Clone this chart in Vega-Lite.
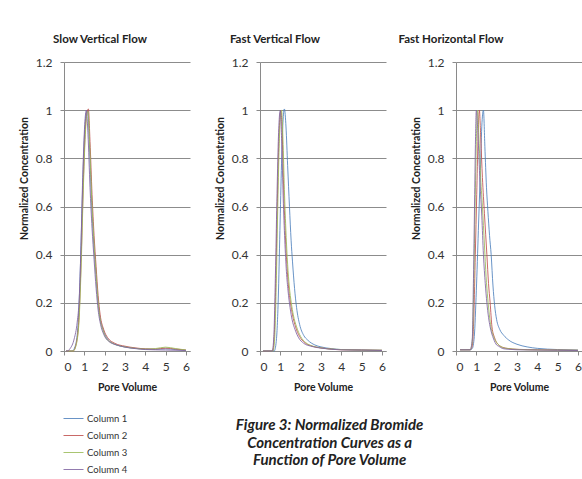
{
  "$schema": "https://vega.github.io/schema/vega-lite/v6.json",
  "autosize": {"type": "none"},
  "padding": {"left": 64, "top": 62, "right": 518, "bottom": 417},
  "background": "white",
  "bounds": "flush",
  "spacing": 70,
  "title": {
    "text": ["Figure 3: Normalized Bromide", "Concentration Curves as a", "Function of Pore Volume"],
    "orient": "bottom", "anchor": "middle", "frame": "bounds",
    "font": "Lato", "fontSize": 15, "fontWeight": "bold", "fontStyle": "italic", "color": "#222",
    "lineHeight": 17.5, "offset": 0, "dx": 29, "dy": -56
  },
  "datasets": {
    "d": [
      {"p":"slow","s":"Column 1","x":0.1,"y":0},{"p":"slow","s":"Column 1","x":0.4,"y":0},{"p":"slow","s":"Column 1","x":0.55,"y":0.02},{"p":"slow","s":"Column 1","x":0.7,"y":0.12},{"p":"slow","s":"Column 1","x":0.8,"y":0.33},{"p":"slow","s":"Column 1","x":0.9,"y":0.63},{"p":"slow","s":"Column 1","x":1.0,"y":0.88},{"p":"slow","s":"Column 1","x":1.1,"y":0.99},{"p":"slow","s":"Column 1","x":1.17,"y":1.0},{"p":"slow","s":"Column 1","x":1.25,"y":0.86},{"p":"slow","s":"Column 1","x":1.35,"y":0.64},{"p":"slow","s":"Column 1","x":1.45,"y":0.47},{"p":"slow","s":"Column 1","x":1.55,"y":0.35},{"p":"slow","s":"Column 1","x":1.65,"y":0.23},{"p":"slow","s":"Column 1","x":1.75,"y":0.15},{"p":"slow","s":"Column 1","x":1.9,"y":0.095},{"p":"slow","s":"Column 1","x":2.1,"y":0.055},{"p":"slow","s":"Column 1","x":2.4,"y":0.032},{"p":"slow","s":"Column 1","x":2.8,"y":0.02},{"p":"slow","s":"Column 1","x":3.3,"y":0.013},{"p":"slow","s":"Column 1","x":4,"y":0.008},{"p":"slow","s":"Column 1","x":4.5,"y":0.007},{"p":"slow","s":"Column 1","x":5,"y":0.009},{"p":"slow","s":"Column 1","x":5.5,"y":0.006},{"p":"slow","s":"Column 1","x":6,"y":0.003},
      {"p":"slow","s":"Column 2","x":0.1,"y":0},{"p":"slow","s":"Column 2","x":0.45,"y":0},{"p":"slow","s":"Column 2","x":0.6,"y":0.03},{"p":"slow","s":"Column 2","x":0.75,"y":0.16},{"p":"slow","s":"Column 2","x":0.85,"y":0.4},{"p":"slow","s":"Column 2","x":0.95,"y":0.7},{"p":"slow","s":"Column 2","x":1.05,"y":0.92},{"p":"slow","s":"Column 2","x":1.13,"y":0.99},{"p":"slow","s":"Column 2","x":1.2,"y":1.005},{"p":"slow","s":"Column 2","x":1.28,"y":0.87},{"p":"slow","s":"Column 2","x":1.38,"y":0.65},{"p":"slow","s":"Column 2","x":1.48,"y":0.48},{"p":"slow","s":"Column 2","x":1.58,"y":0.35},{"p":"slow","s":"Column 2","x":1.68,"y":0.23},{"p":"slow","s":"Column 2","x":1.78,"y":0.15},{"p":"slow","s":"Column 2","x":1.95,"y":0.09},{"p":"slow","s":"Column 2","x":2.15,"y":0.055},{"p":"slow","s":"Column 2","x":2.5,"y":0.032},{"p":"slow","s":"Column 2","x":3,"y":0.02},{"p":"slow","s":"Column 2","x":3.5,"y":0.013},{"p":"slow","s":"Column 2","x":4,"y":0.009},{"p":"slow","s":"Column 2","x":4.5,"y":0.008},{"p":"slow","s":"Column 2","x":5,"y":0.012},{"p":"slow","s":"Column 2","x":5.5,"y":0.008},{"p":"slow","s":"Column 2","x":6,"y":0.004},
      {"p":"slow","s":"Column 3","x":0.1,"y":0},{"p":"slow","s":"Column 3","x":0.45,"y":0},{"p":"slow","s":"Column 3","x":0.6,"y":0.025},{"p":"slow","s":"Column 3","x":0.75,"y":0.14},{"p":"slow","s":"Column 3","x":0.85,"y":0.37},{"p":"slow","s":"Column 3","x":0.95,"y":0.67},{"p":"slow","s":"Column 3","x":1.05,"y":0.9},{"p":"slow","s":"Column 3","x":1.12,"y":0.98},{"p":"slow","s":"Column 3","x":1.18,"y":0.995},{"p":"slow","s":"Column 3","x":1.26,"y":0.86},{"p":"slow","s":"Column 3","x":1.36,"y":0.64},{"p":"slow","s":"Column 3","x":1.46,"y":0.47},{"p":"slow","s":"Column 3","x":1.56,"y":0.34},{"p":"slow","s":"Column 3","x":1.66,"y":0.22},{"p":"slow","s":"Column 3","x":1.76,"y":0.14},{"p":"slow","s":"Column 3","x":1.92,"y":0.085},{"p":"slow","s":"Column 3","x":2.1,"y":0.05},{"p":"slow","s":"Column 3","x":2.5,"y":0.028},{"p":"slow","s":"Column 3","x":3,"y":0.017},{"p":"slow","s":"Column 3","x":3.5,"y":0.011},{"p":"slow","s":"Column 3","x":4,"y":0.008},{"p":"slow","s":"Column 3","x":4.5,"y":0.01},{"p":"slow","s":"Column 3","x":5,"y":0.016},{"p":"slow","s":"Column 3","x":5.5,"y":0.01},{"p":"slow","s":"Column 3","x":6,"y":0.004},
      {"p":"slow","s":"Column 4","x":0.1,"y":0},{"p":"slow","s":"Column 4","x":0.15,"y":0},{"p":"slow","s":"Column 4","x":0.3,"y":0.01},{"p":"slow","s":"Column 4","x":0.5,"y":0.05},{"p":"slow","s":"Column 4","x":0.65,"y":0.12},{"p":"slow","s":"Column 4","x":0.75,"y":0.22},{"p":"slow","s":"Column 4","x":0.83,"y":0.42},{"p":"slow","s":"Column 4","x":0.92,"y":0.72},{"p":"slow","s":"Column 4","x":1.02,"y":0.94},{"p":"slow","s":"Column 4","x":1.1,"y":1.0},{"p":"slow","s":"Column 4","x":1.18,"y":0.9},{"p":"slow","s":"Column 4","x":1.28,"y":0.68},{"p":"slow","s":"Column 4","x":1.38,"y":0.51},{"p":"slow","s":"Column 4","x":1.48,"y":0.38},{"p":"slow","s":"Column 4","x":1.58,"y":0.26},{"p":"slow","s":"Column 4","x":1.68,"y":0.17},{"p":"slow","s":"Column 4","x":1.8,"y":0.11},{"p":"slow","s":"Column 4","x":1.95,"y":0.07},{"p":"slow","s":"Column 4","x":2.2,"y":0.04},{"p":"slow","s":"Column 4","x":2.6,"y":0.025},{"p":"slow","s":"Column 4","x":3,"y":0.016},{"p":"slow","s":"Column 4","x":3.5,"y":0.01},{"p":"slow","s":"Column 4","x":4,"y":0.006},{"p":"slow","s":"Column 4","x":5,"y":0.004},{"p":"slow","s":"Column 4","x":6,"y":0.002},

      {"p":"fastV","s":"Column 1","x":0.15,"y":0},{"p":"fastV","s":"Column 1","x":0.7,"y":0},{"p":"fastV","s":"Column 1","x":0.8,"y":0.04},{"p":"fastV","s":"Column 1","x":0.9,"y":0.22},{"p":"fastV","s":"Column 1","x":0.98,"y":0.5},{"p":"fastV","s":"Column 1","x":1.06,"y":0.78},{"p":"fastV","s":"Column 1","x":1.13,"y":0.95},{"p":"fastV","s":"Column 1","x":1.2,"y":1.005},{"p":"fastV","s":"Column 1","x":1.28,"y":0.93},{"p":"fastV","s":"Column 1","x":1.36,"y":0.77},{"p":"fastV","s":"Column 1","x":1.45,"y":0.6},{"p":"fastV","s":"Column 1","x":1.53,"y":0.46},{"p":"fastV","s":"Column 1","x":1.6,"y":0.37},{"p":"fastV","s":"Column 1","x":1.7,"y":0.26},{"p":"fastV","s":"Column 1","x":1.8,"y":0.18},{"p":"fastV","s":"Column 1","x":1.95,"y":0.11},{"p":"fastV","s":"Column 1","x":2.15,"y":0.065},{"p":"fastV","s":"Column 1","x":2.35,"y":0.045},{"p":"fastV","s":"Column 1","x":2.7,"y":0.025},{"p":"fastV","s":"Column 1","x":3,"y":0.017},{"p":"fastV","s":"Column 1","x":3.5,"y":0.01},{"p":"fastV","s":"Column 1","x":4,"y":0.006},{"p":"fastV","s":"Column 1","x":5,"y":0.004},{"p":"fastV","s":"Column 1","x":6,"y":0.003},
      {"p":"fastV","s":"Column 2","x":0.15,"y":0},{"p":"fastV","s":"Column 2","x":0.62,"y":0},{"p":"fastV","s":"Column 2","x":0.7,"y":0.06},{"p":"fastV","s":"Column 2","x":0.78,"y":0.3},{"p":"fastV","s":"Column 2","x":0.85,"y":0.6},{"p":"fastV","s":"Column 2","x":0.92,"y":0.85},{"p":"fastV","s":"Column 2","x":0.98,"y":0.97},{"p":"fastV","s":"Column 2","x":1.03,"y":1.0},{"p":"fastV","s":"Column 2","x":1.1,"y":0.88},{"p":"fastV","s":"Column 2","x":1.17,"y":0.66},{"p":"fastV","s":"Column 2","x":1.25,"y":0.48},{"p":"fastV","s":"Column 2","x":1.33,"y":0.35},{"p":"fastV","s":"Column 2","x":1.4,"y":0.27},{"p":"fastV","s":"Column 2","x":1.5,"y":0.2},{"p":"fastV","s":"Column 2","x":1.6,"y":0.15},{"p":"fastV","s":"Column 2","x":1.75,"y":0.1},{"p":"fastV","s":"Column 2","x":1.95,"y":0.06},{"p":"fastV","s":"Column 2","x":2.2,"y":0.035},{"p":"fastV","s":"Column 2","x":2.5,"y":0.022},{"p":"fastV","s":"Column 2","x":3,"y":0.013},{"p":"fastV","s":"Column 2","x":3.5,"y":0.008},{"p":"fastV","s":"Column 2","x":4,"y":0.005},{"p":"fastV","s":"Column 2","x":5,"y":0.004},{"p":"fastV","s":"Column 2","x":6,"y":0.003},
      {"p":"fastV","s":"Column 3","x":0.15,"y":0},{"p":"fastV","s":"Column 3","x":0.64,"y":0},{"p":"fastV","s":"Column 3","x":0.72,"y":0.05},{"p":"fastV","s":"Column 3","x":0.8,"y":0.28},{"p":"fastV","s":"Column 3","x":0.87,"y":0.58},{"p":"fastV","s":"Column 3","x":0.94,"y":0.84},{"p":"fastV","s":"Column 3","x":1.0,"y":0.97},{"p":"fastV","s":"Column 3","x":1.06,"y":1.0},{"p":"fastV","s":"Column 3","x":1.13,"y":0.88},{"p":"fastV","s":"Column 3","x":1.2,"y":0.67},{"p":"fastV","s":"Column 3","x":1.28,"y":0.49},{"p":"fastV","s":"Column 3","x":1.36,"y":0.36},{"p":"fastV","s":"Column 3","x":1.44,"y":0.27},{"p":"fastV","s":"Column 3","x":1.54,"y":0.2},{"p":"fastV","s":"Column 3","x":1.64,"y":0.15},{"p":"fastV","s":"Column 3","x":1.8,"y":0.1},{"p":"fastV","s":"Column 3","x":2.0,"y":0.06},{"p":"fastV","s":"Column 3","x":2.25,"y":0.035},{"p":"fastV","s":"Column 3","x":2.6,"y":0.02},{"p":"fastV","s":"Column 3","x":3,"y":0.013},{"p":"fastV","s":"Column 3","x":3.5,"y":0.008},{"p":"fastV","s":"Column 3","x":4,"y":0.006},{"p":"fastV","s":"Column 3","x":5,"y":0.004},{"p":"fastV","s":"Column 3","x":6,"y":0.003},
      {"p":"fastV","s":"Column 4","x":0.15,"y":0},{"p":"fastV","s":"Column 4","x":0.6,"y":0},{"p":"fastV","s":"Column 4","x":0.68,"y":0.06},{"p":"fastV","s":"Column 4","x":0.76,"y":0.32},{"p":"fastV","s":"Column 4","x":0.83,"y":0.62},{"p":"fastV","s":"Column 4","x":0.9,"y":0.87},{"p":"fastV","s":"Column 4","x":0.96,"y":0.98},{"p":"fastV","s":"Column 4","x":1.0,"y":1.0},{"p":"fastV","s":"Column 4","x":1.07,"y":0.86},{"p":"fastV","s":"Column 4","x":1.14,"y":0.64},{"p":"fastV","s":"Column 4","x":1.22,"y":0.46},{"p":"fastV","s":"Column 4","x":1.3,"y":0.33},{"p":"fastV","s":"Column 4","x":1.38,"y":0.25},{"p":"fastV","s":"Column 4","x":1.48,"y":0.18},{"p":"fastV","s":"Column 4","x":1.58,"y":0.13},{"p":"fastV","s":"Column 4","x":1.72,"y":0.09},{"p":"fastV","s":"Column 4","x":1.9,"y":0.055},{"p":"fastV","s":"Column 4","x":2.15,"y":0.032},{"p":"fastV","s":"Column 4","x":2.5,"y":0.02},{"p":"fastV","s":"Column 4","x":3,"y":0.012},{"p":"fastV","s":"Column 4","x":3.5,"y":0.007},{"p":"fastV","s":"Column 4","x":4,"y":0.005},{"p":"fastV","s":"Column 4","x":5,"y":0.004},{"p":"fastV","s":"Column 4","x":6,"y":0.002},

      {"p":"fastH","s":"Column 1","x":0.2,"y":0.005},{"p":"fastH","s":"Column 1","x":0.7,"y":0.005},{"p":"fastH","s":"Column 1","x":0.8,"y":0.01},{"p":"fastH","s":"Column 1","x":0.9,"y":0.06},{"p":"fastH","s":"Column 1","x":1.0,"y":0.25},{"p":"fastH","s":"Column 1","x":1.1,"y":0.5},{"p":"fastH","s":"Column 1","x":1.2,"y":0.75},{"p":"fastH","s":"Column 1","x":1.28,"y":0.95},{"p":"fastH","s":"Column 1","x":1.35,"y":1.0},{"p":"fastH","s":"Column 1","x":1.42,"y":0.85},{"p":"fastH","s":"Column 1","x":1.5,"y":0.68},{"p":"fastH","s":"Column 1","x":1.57,"y":0.58},{"p":"fastH","s":"Column 1","x":1.65,"y":0.48},{"p":"fastH","s":"Column 1","x":1.73,"y":0.4},{"p":"fastH","s":"Column 1","x":1.82,"y":0.27},{"p":"fastH","s":"Column 1","x":1.9,"y":0.19},{"p":"fastH","s":"Column 1","x":2.0,"y":0.13},{"p":"fastH","s":"Column 1","x":2.15,"y":0.09},{"p":"fastH","s":"Column 1","x":2.35,"y":0.065},{"p":"fastH","s":"Column 1","x":2.6,"y":0.045},{"p":"fastH","s":"Column 1","x":3.0,"y":0.028},{"p":"fastH","s":"Column 1","x":3.5,"y":0.017},{"p":"fastH","s":"Column 1","x":4,"y":0.011},{"p":"fastH","s":"Column 1","x":5,"y":0.006},{"p":"fastH","s":"Column 1","x":6,"y":0.004},
      {"p":"fastH","s":"Column 2","x":0.2,"y":0.005},{"p":"fastH","s":"Column 2","x":0.7,"y":0.005},{"p":"fastH","s":"Column 2","x":0.8,"y":0.02},{"p":"fastH","s":"Column 2","x":0.88,"y":0.15},{"p":"fastH","s":"Column 2","x":0.95,"y":0.4},{"p":"fastH","s":"Column 2","x":1.02,"y":0.65},{"p":"fastH","s":"Column 2","x":1.08,"y":0.87},{"p":"fastH","s":"Column 2","x":1.15,"y":1.0},{"p":"fastH","s":"Column 2","x":1.22,"y":0.88},{"p":"fastH","s":"Column 2","x":1.3,"y":0.72},{"p":"fastH","s":"Column 2","x":1.4,"y":0.57},{"p":"fastH","s":"Column 2","x":1.52,"y":0.4},{"p":"fastH","s":"Column 2","x":1.6,"y":0.28},{"p":"fastH","s":"Column 2","x":1.68,"y":0.2},{"p":"fastH","s":"Column 2","x":1.77,"y":0.1},{"p":"fastH","s":"Column 2","x":1.9,"y":0.055},{"p":"fastH","s":"Column 2","x":2.0,"y":0.035},{"p":"fastH","s":"Column 2","x":2.1,"y":0.025},{"p":"fastH","s":"Column 2","x":2.3,"y":0.015},{"p":"fastH","s":"Column 2","x":2.6,"y":0.01},{"p":"fastH","s":"Column 2","x":3,"y":0.007},{"p":"fastH","s":"Column 2","x":4,"y":0.005},{"p":"fastH","s":"Column 2","x":5,"y":0.004},{"p":"fastH","s":"Column 2","x":6,"y":0.003},
      {"p":"fastH","s":"Column 3","x":0.2,"y":0.005},{"p":"fastH","s":"Column 3","x":0.7,"y":0.005},{"p":"fastH","s":"Column 3","x":0.8,"y":0.04},{"p":"fastH","s":"Column 3","x":0.88,"y":0.3},{"p":"fastH","s":"Column 3","x":0.94,"y":0.6},{"p":"fastH","s":"Column 3","x":1.0,"y":0.87},{"p":"fastH","s":"Column 3","x":1.05,"y":1.0},{"p":"fastH","s":"Column 3","x":1.12,"y":0.9},{"p":"fastH","s":"Column 3","x":1.2,"y":0.74},{"p":"fastH","s":"Column 3","x":1.3,"y":0.6},{"p":"fastH","s":"Column 3","x":1.4,"y":0.44},{"p":"fastH","s":"Column 3","x":1.48,"y":0.31},{"p":"fastH","s":"Column 3","x":1.56,"y":0.22},{"p":"fastH","s":"Column 3","x":1.64,"y":0.15},{"p":"fastH","s":"Column 3","x":1.72,"y":0.1},{"p":"fastH","s":"Column 3","x":1.85,"y":0.06},{"p":"fastH","s":"Column 3","x":2.0,"y":0.035},{"p":"fastH","s":"Column 3","x":2.15,"y":0.022},{"p":"fastH","s":"Column 3","x":2.4,"y":0.012},{"p":"fastH","s":"Column 3","x":2.8,"y":0.008},{"p":"fastH","s":"Column 3","x":3.5,"y":0.005},{"p":"fastH","s":"Column 3","x":4.5,"y":0.004},{"p":"fastH","s":"Column 3","x":6,"y":0.003},
      {"p":"fastH","s":"Column 4","x":0.2,"y":0.005},{"p":"fastH","s":"Column 4","x":0.7,"y":0.005},{"p":"fastH","s":"Column 4","x":0.8,"y":0.05},{"p":"fastH","s":"Column 4","x":0.86,"y":0.3},{"p":"fastH","s":"Column 4","x":0.92,"y":0.65},{"p":"fastH","s":"Column 4","x":0.96,"y":0.88},{"p":"fastH","s":"Column 4","x":1.0,"y":1.0},{"p":"fastH","s":"Column 4","x":1.08,"y":0.9},{"p":"fastH","s":"Column 4","x":1.18,"y":0.7},{"p":"fastH","s":"Column 4","x":1.27,"y":0.56},{"p":"fastH","s":"Column 4","x":1.35,"y":0.4},{"p":"fastH","s":"Column 4","x":1.44,"y":0.28},{"p":"fastH","s":"Column 4","x":1.52,"y":0.2},{"p":"fastH","s":"Column 4","x":1.6,"y":0.14},{"p":"fastH","s":"Column 4","x":1.68,"y":0.1},{"p":"fastH","s":"Column 4","x":1.85,"y":0.05},{"p":"fastH","s":"Column 4","x":2.0,"y":0.025},{"p":"fastH","s":"Column 4","x":2.1,"y":0.02},{"p":"fastH","s":"Column 4","x":2.3,"y":0.01},{"p":"fastH","s":"Column 4","x":2.6,"y":0.007},{"p":"fastH","s":"Column 4","x":3,"y":0.005},{"p":"fastH","s":"Column 4","x":4,"y":0.004},{"p":"fastH","s":"Column 4","x":5,"y":0.003},{"p":"fastH","s":"Column 4","x":6,"y":0.002}
    ]
  },
  "data": {"name": "d"},
  "hconcat": [
    {
      "title": {"text": "Slow Vertical Flow", "dx": -27},
      "width": 126, "height": 289,
      "transform": [{"filter": "datum.p == 'slow'"}],
      "mark": {"type": "line", "interpolate": "monotone", "strokeWidth": 1, "opacity": 0.85},
      "encoding": {
        "x": {"field": "x", "type": "quantitative", "scale": {"domain": [0, 6.2], "nice": false}, "axis": {"values": [0,1,2,3,4,5,6], "title": "Pore Volume"}},
        "y": {"field": "y", "type": "quantitative", "scale": {"domain": [0, 1.2], "nice": false}, "axis": {"values": [0,0.2,0.4,0.6,0.8,1,1.2], "format": "~g", "title": "Normalized Concentration", "titleY": 116}},
        "color": {"field": "s", "type": "nominal", "scale": {"domain": ["Column 1","Column 2","Column 3","Column 4"], "range": ["#4F81BD","#C0504D","#9BBB59","#8064A2"]}, "legend": {"title": null, "rowPadding": 2}}
      }
    },
    {
      "title": {"text": "Fast Vertical Flow", "dx": -48},
      "width": 126, "height": 289,
      "transform": [{"filter": "datum.p == 'fastV'"}],
      "mark": {"type": "line", "interpolate": "monotone", "strokeWidth": 1, "opacity": 0.85},
      "encoding": {
        "x": {"field": "x", "type": "quantitative", "scale": {"domain": [0, 6.2], "nice": false}, "axis": {"values": [0,1,2,3,4,5,6], "title": "Pore Volume"}},
        "y": {"field": "y", "type": "quantitative", "scale": {"domain": [0, 1.2], "nice": false}, "axis": {"values": [0,0.2,0.4,0.6,0.8,1,1.2], "format": "~g", "title": "Normalized Concentration", "titleY": 116}},
        "color": {"field": "s", "type": "nominal", "scale": {"domain": ["Column 1","Column 2","Column 3","Column 4"], "range": ["#4F81BD","#C0504D","#9BBB59","#8064A2"]}, "legend": {"title": null, "rowPadding": 2}}
      }
    },
    {
      "title": {"text": "Fast Horizontal Flow", "dx": -68},
      "width": 126, "height": 289,
      "transform": [{"filter": "datum.p == 'fastH'"}],
      "mark": {"type": "line", "interpolate": "monotone", "strokeWidth": 1, "opacity": 0.85},
      "encoding": {
        "x": {"field": "x", "type": "quantitative", "scale": {"domain": [0, 6.2], "nice": false}, "axis": {"values": [0,1,2,3,4,5,6], "title": "Pore Volume"}},
        "y": {"field": "y", "type": "quantitative", "scale": {"domain": [0, 1.2], "nice": false}, "axis": {"values": [0,0.2,0.4,0.6,0.8,1,1.2], "format": "~g", "title": "Normalized Concentration", "titleY": 116}},
        "color": {"field": "s", "type": "nominal", "scale": {"domain": ["Column 1","Column 2","Column 3","Column 4"], "range": ["#4F81BD","#C0504D","#9BBB59","#8064A2"]}, "legend": {"title": null, "rowPadding": 2}}
      }
    }
  ],
  "config": {
    "font": "Lato",
    "view": {"stroke": null},
    "title": {"font": "Lato", "fontSize": 11.5, "fontWeight": "bold", "color": "#222", "anchor": "middle", "frame": "group", "offset": 11},
    "axis": {"labelFont": "Lato", "labelFontSize": 12, "labelColor": "#333", "titleFont": "Lato", "titleFontSize": 10.5, "titleFontWeight": "bold", "titleColor": "#222", "domainColor": "#8a8a8a", "tickColor": "#8a8a8a", "tickSize": 4, "gridColor": "#8c8c8c"},
    "axisX": {"grid": false, "labelPadding": 6, "titlePadding": 10, "labelAngle": 0},
    "axisY": {"grid": true, "labelPadding": 8, "titlePadding": 6},
    "legend": {"orient": "none", "legendX": -1, "legendY": 346, "symbolType": "stroke", "symbolSize": 400, "symbolStrokeWidth": 1, "labelFont": "Lato", "labelFontSize": 9.5, "labelColor": "#333", "labelOffset": 3, "padding": 0}
  }
}
